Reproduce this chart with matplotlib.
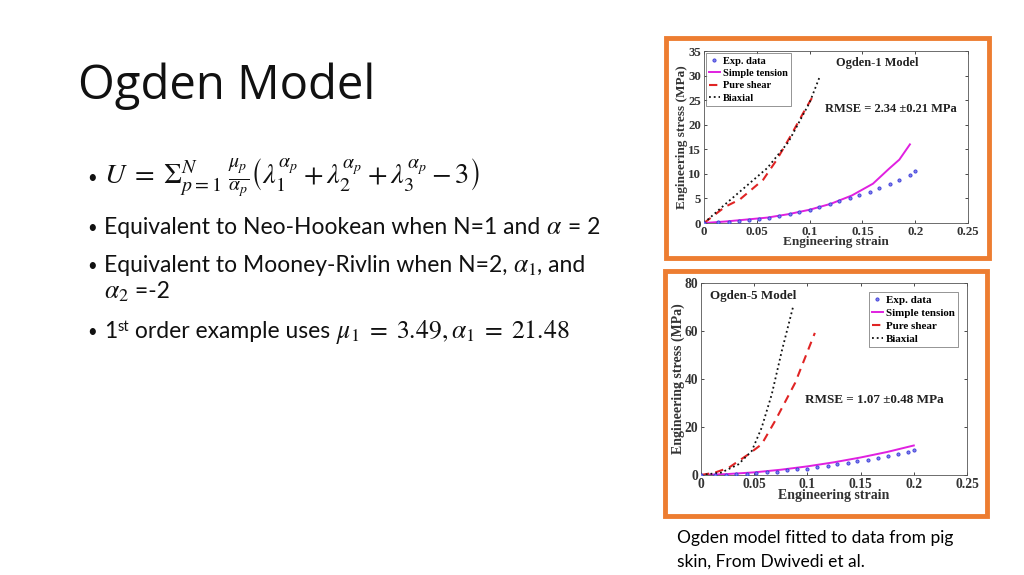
import matplotlib
matplotlib.use("Agg")
import matplotlib.pyplot as plt
from matplotlib.patches import Rectangle
import numpy as np

plt.rcParams['mathtext.fontset'] = 'stix'

# experimental points (same pig skin data in both panels)
exp_strain = [0, 0.0135, 0.0235, 0.033, 0.043, 0.052, 0.062, 0.071, 0.081, 0.090, 0.100,
              0.109, 0.119, 0.128, 0.138, 0.147, 0.157, 0.166, 0.176, 0.185, 0.195, 0.200]
exp_stress = [0, 0.15, 0.2, 0.35, 0.6, 0.85, 1.1, 1.4, 1.9, 2.3, 2.7,
              3.3, 3.9, 4.5, 5.0, 5.7, 6.4, 7.2, 8.0, 8.8, 9.7, 10.5]

# Ogden-1 fits
o1_tension_x = [0, 0.02, 0.04, 0.06, 0.08, 0.10, 0.12, 0.14, 0.15, 0.16, 0.175, 0.185, 0.195]
o1_tension_y = [0, 0.3, 0.7, 1.1, 1.8, 2.7, 3.9, 5.6, 6.8, 8.0, 11.0, 12.9, 16.0]
o1_shear_x = [0, 0.02, 0.034, 0.056, 0.069, 0.082, 0.094, 0.105]
o1_shear_y = [0, 3.3, 4.8, 8.8, 12.9, 17.7, 22.4, 26.5]
o1_biax_x = [0, 0.02, 0.04, 0.06, 0.08, 0.10, 0.11]
o1_biax_y = [0, 3.8, 7.5, 11.2, 16.5, 24.5, 30.0]

# Ogden-5 fits
o5_tension_x = [0, 0.025, 0.05, 0.075, 0.10, 0.125, 0.15, 0.175, 0.20]
o5_tension_y = [0, 0.4, 1.1, 2.2, 3.6, 5.3, 7.3, 9.6, 12.3]
o5_shear_x = [0, 0.013, 0.026, 0.0445, 0.057, 0.0696, 0.0885, 0.107]
o5_shear_y = [0, 1.0, 3.0, 8.6, 12.8, 22.5, 38.4, 59.2]
o5_biax_x = [0, 0.019, 0.035, 0.0477, 0.057, 0.0665, 0.0759, 0.0869]
o5_biax_y = [0, 1.0, 4.4, 10.0, 19.7, 33.6, 51.6, 70.7]

x_ticks = [0, 0.05, 0.1, 0.15, 0.2, 0.25]
x_tick_labels = ['0', '0.05', '0.1', '0.15', '0.2', '0.25']
o1_y_ticks = [0, 5, 10, 15, 20, 25, 30, 35]
o5_y_ticks = [0, 20, 40, 60, 80]

W, H = 1024, 575
fig = plt.figure(figsize=(W / 100, H / 100), dpi=100)
fig.patch.set_facecolor('white')
renderer = fig.canvas.get_renderer()


def fx(px):
    return px / W


def fy(py):
    return 1 - py / H


def runs(x, y, parts):
    # draw text pieces one after another on a shared baseline
    for s, kw in parts:
        dy = kw.pop('dy', 0)
        t = fig.text(fx(x), fy(y + dy), s, va='baseline', color='#111111', **kw)
        x += t.get_window_extent(renderer).width


TXT = dict(fontsize=16.5, family='Lato')
MATH = dict(fontsize=18.5)

# slide text
fig.text(fx(78), fy(86), "Ogden Model", fontsize=34, family='Open Sans', va='center', color='#111111')

for yy in [178, 228, 266, 332]:
    fig.text(fx(87), fy(yy), "\u2022", va='center', color='#111111', fontsize=12, family='Lato')

fig.text(fx(104), fy(178),
         r"$U\;=\;\Sigma_{p=1}^{N}\;\frac{\mu_p}{\alpha_p}\left(\lambda_1^{\alpha_p}+\lambda_2^{\alpha_p}+\lambda_3^{\alpha_p}-3\right)$",
         fontsize=20.5, va='center', color='#111111')
runs(104, 234, [("Equivalent to Neo-Hookean when N=1 and ", dict(TXT)),
                (r"$\alpha$", dict(MATH)), (" = 2", dict(TXT))])
runs(104, 272, [("Equivalent to Mooney-Rivlin when N=2, ", dict(TXT)),
                (r"$\alpha_1$", dict(MATH)), (", and", dict(TXT))])
runs(104, 298, [(r"$\alpha_2$", dict(MATH)), (" =-2", dict(TXT))])
runs(104, 338, [("1", dict(TXT)), ("st", dict(fontsize=10.5, family='Lato', dy=-7)),
                (" order example uses ", dict(TXT)),
                (r"$\mu_1\;=\;3.49,\alpha_1\;=\;21.48$", dict(MATH))])

fig.text(fx(677), fy(538), "Ogden model fitted to data from pig", fontsize=12.5, family='Lato', va='center')
fig.text(fx(677), fy(562), "skin, From Dwivedi et al.", fontsize=12.5, family='Lato', va='center')

# orange frames around the two figures
orange = '#ED7D31'
for (x0, y0, x1, y1) in [(666, 38, 989, 258), (665, 271, 987, 516)]:
    fig.patches.append(Rectangle((fx(x0), fy(y1)), fx(x1) - fx(x0), fy(y0) - fy(y1),
                                 transform=fig.transFigure, facecolor='white',
                                 edgecolor=orange, linewidth=3.5, zorder=-5))

serif = 'Liberation Serif'


def panel(rect, ylim, yticks, tx, ty, sx, sy, bx, by, title, title_xy, rmse, rmse_xy,
          legloc, legpad, k):
    ax = fig.add_axes(rect)
    ax.set_zorder(2)
    ax.plot(exp_strain, exp_stress, 'o', ms=2.3, mfc='#8080ec', mec='#3a3ad8', mew=0.6,
            label='Exp. data', zorder=4)
    ax.plot(tx, ty, '-', color='#e020e0', lw=1.4, label='Simple tension')
    ax.plot(sx, sy, '--', color='#e02424', lw=1.5, dashes=(4, 3), label='Pure shear')
    ax.plot(bx, by, ':', color='#111111', lw=1.3, label='Biaxial')
    ax.set_xlim(0, 0.25)
    ax.set_ylim(*ylim)
    ax.set_xticks(x_ticks)
    ax.set_xticklabels(x_tick_labels)
    ax.set_yticks(yticks)
    ax.tick_params(direction='in', length=2, width=0.5, top=True, right=True, pad=2,
                   labelsize=9.3 * k)
    for lab in ax.get_xticklabels() + ax.get_yticklabels():
        lab.set_family(serif)
        lab.set_fontweight('bold')
        lab.set_color('#333333')
    for sp in ax.spines.values():
        sp.set_linewidth(0.6)
        sp.set_color('#555555')
    ax.set_xlabel('Engineering strain', family=serif, fontweight='bold', fontsize=9.5 * k,
                  labelpad=-1, color='#333333')
    ax.set_ylabel('Engineering stress (MPa)', family=serif, fontweight='bold', fontsize=9.5 * k,
                  labelpad=0, color='#333333')
    ax.text(title_xy[0], title_xy[1], title, transform=ax.transAxes, family=serif,
            fontweight='bold', fontsize=8.9 * k, color='#222222', va='center')
    ax.text(rmse_xy[0], rmse_xy[1], rmse, transform=ax.transAxes, family=serif,
            fontweight='bold', fontsize=9.0 * k, color='#222222', va='center')
    leg = ax.legend(loc=legloc, handlelength=1.0, handletextpad=0.3,
                    borderpad=0.3, labelspacing=0.3, fancybox=False, borderaxespad=legpad,
                    numpoints=1, prop={'family': serif, 'weight': 'bold', 'size': 7.5 * k})
    leg.get_frame().set_edgecolor('#444444')
    leg.get_frame().set_linewidth(0.5)
    return ax


panel([fx(704), fy(223), fx(968) - fx(704), fy(51) - fy(223)], (0, 35), o1_y_ticks,
      o1_tension_x, o1_tension_y, o1_shear_x, o1_shear_y, o1_biax_x, o1_biax_y,
      'Ogden-1 Model', (0.50, 0.93), 'RMSE = 2.34 \u00b10.21 MPa', (0.46, 0.66),
      'upper left', 0.2, 1.0)

panel([fx(701), fy(475), fx(967) - fx(701), fy(283) - fy(475)], (0, 80), o5_y_ticks,
      o5_tension_x, o5_tension_y, o5_shear_x, o5_shear_y, o5_biax_x, o5_biax_y,
      'Ogden-5 Model', (0.035, 0.93), 'RMSE = 1.07 \u00b10.48 MPa', (0.39, 0.39),
      'upper right', 0.8, 1.05)

fig.savefig('out.png', dpi=100)
